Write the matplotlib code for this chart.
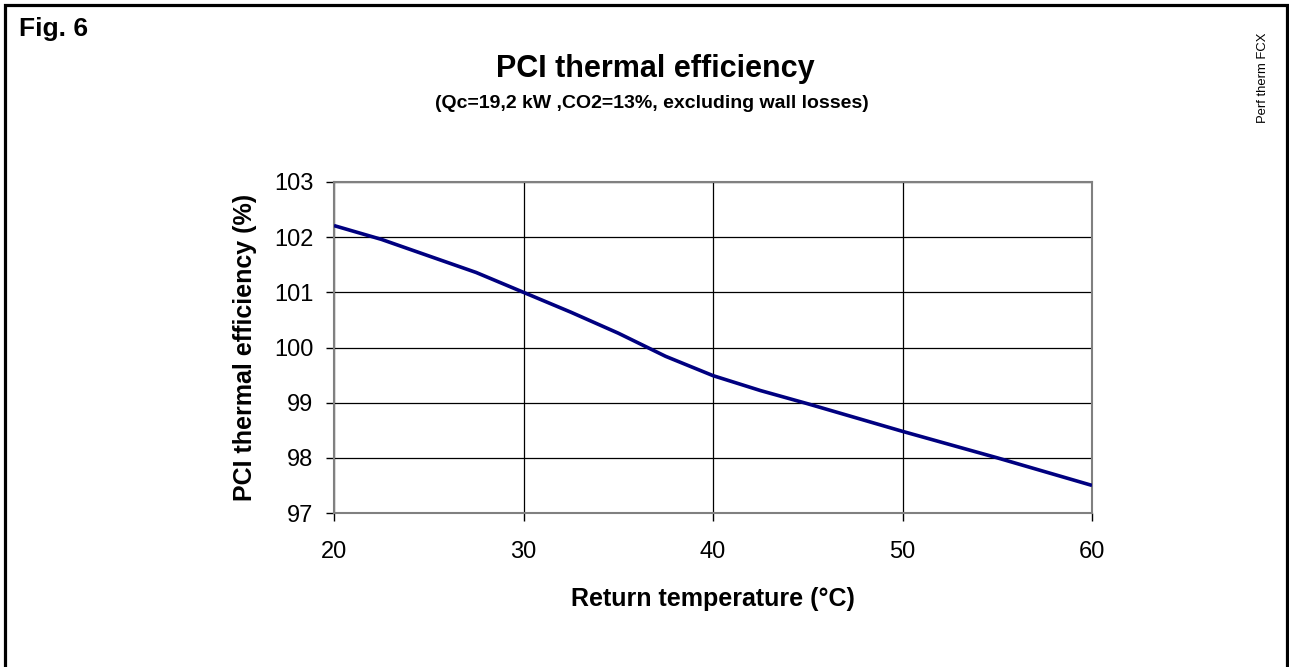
import matplotlib
matplotlib.use('Agg')
import matplotlib.pyplot as plt
from matplotlib.lines import Line2D

# ── data ─────────────────────────────────────────────────────────────────────
temps = [20, 22.5, 25, 27.5, 30, 32.5, 35, 37.5, 40, 42.5, 45, 50, 55, 60]
eff   = [102.21, 101.96, 101.66, 101.36, 101.0, 100.64, 100.26, 99.84,
         99.49, 99.22, 98.98, 98.48, 98.0, 97.5]
xticks = [20, 30, 40, 50, 60]
yticks = [97, 98, 99, 100, 101, 102, 103]

FONT = ['Liberation Sans', 'DejaVu Sans']
LINE_C = '#000080'
SPINE_C = '#808080'

plt.rcParams['font.family'] = FONT

W, H = 1289, 667
fig = plt.figure(figsize=(W / 100, H / 100), dpi=100, facecolor='white')

# axes box in pixel terms: x 334..1092, y 182..513
ax = fig.add_axes([334 / W, 1 - 513 / H, (1092 - 334) / W, (513 - 182) / H])
ax.plot(temps, eff, color=LINE_C, lw=2.6, solid_capstyle='butt', zorder=3)

ax.set_xlim(20, 60)
ax.set_ylim(97, 103)
ax.set_xticks(xticks)
ax.set_yticks(yticks)
ax.grid(True, color='black', lw=0.9)
ax.set_axisbelow(True)
for s in ax.spines.values():
    s.set_color(SPINE_C)
    s.set_linewidth(1.5)
ax.tick_params(direction='out', length=6, width=1, color='black',
               labelsize=17)
ax.tick_params(axis='y', pad=9)
ax.tick_params(axis='x', pad=14)

ax.set_xlabel('Return temperature (°C)', fontsize=18, fontweight='bold')
ax.xaxis.set_label_coords(0.5, -0.225)
ax.set_ylabel('PCI thermal efficiency (%)', fontsize=18, fontweight='bold')
ax.yaxis.set_label_coords(-0.102, 0.5)

# ── titles / captions ────────────────────────────────────────────────────────
fig.text(655 / W, 1 - 77 / H, 'PCI thermal efficiency', fontsize=22,
         fontweight='bold', ha='center', va='baseline')
fig.text(652 / W, 1 - 108 / H, '(Qc=19,2 kW ,CO2=13%, excluding wall losses)',
         fontsize=14, fontweight='bold', ha='center', va='baseline')
fig.text(19 / W, 1 - 36 / H, 'Fig. 6', fontsize=19, fontweight='bold',
         ha='left', va='baseline')
fig.text(1263 / W, 1 - 78 / H, 'Perf therm FCX', fontsize=9.4,
         rotation=90, ha='center', va='center')

# frame round the figure (open at the bottom)
fig.add_artist(Line2D([5 / W, 5 / W, 1286.5 / W, 1286.5 / W],
                      [0, 1 - 4.5 / H, 1 - 4.5 / H, 0],
                      transform=fig.transFigure, color='black', lw=2.3,
                      solid_joinstyle='miter'))

fig.savefig('out.png', dpi=100, facecolor='white')
